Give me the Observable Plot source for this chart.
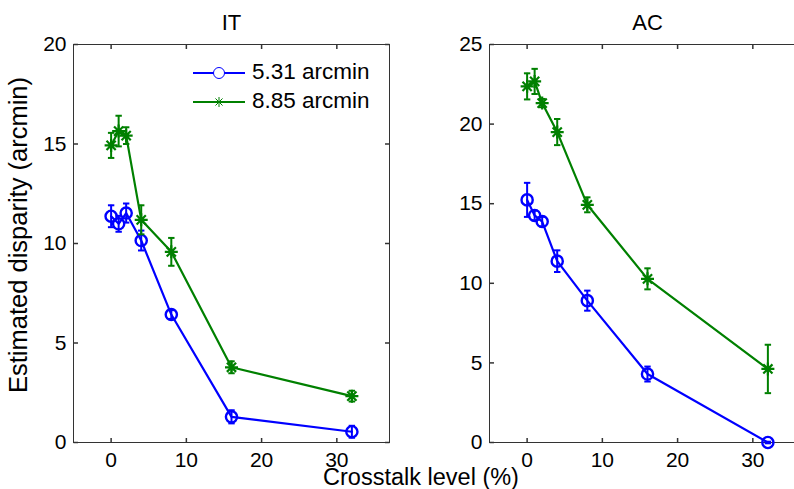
<!DOCTYPE html>
<html>
<head>
<meta charset="utf-8">
<script src="https://cdn.jsdelivr.net/npm/d3@7"></script>
<script src="https://cdn.jsdelivr.net/npm/@observablehq/plot@0.6"></script>
<style>
  html, body { margin: 0; padding: 0; overflow: hidden; background: white; }
  #wrap { position: relative; width: 794px; height: 489px; overflow: hidden; background: white;
          font-family: "Liberation Sans", Arial, Helvetica, sans-serif; color: black; }
  .panel { position: absolute; top: 0; }
  .panel svg { max-width: none !important; }
  #xlabel { position: absolute; left: 421px; top: 466px; transform: translateX(-50%);
            font-size: 23.5px; line-height: 1; white-space: nowrap; }
  #ylabel { position: absolute; left: 19px; top: 235px; transform: translate(-50%, -50%) rotate(-90deg);
            font-size: 25.5px; line-height: 1; white-space: nowrap; }
  #legend { position: absolute; left: 193px; top: 58px; font-size: 22.5px; line-height: 1; }
  .lrow { display: flex; align-items: center; height: 29px; }
  .lrow svg { margin-right: 7px; }
</style>
</head>
<body>
<div id="wrap">
  <div id="left" class="panel" style="left:0px"></div>
  <div id="right" class="panel" style="left:400px"></div>
  <div id="legend"></div>
  <div id="ylabel">Estimated disparity (arcmin)</div>
  <div id="xlabel">Crosstalk level (%)</div>
</div>
<script>
// ---- data ----
const crosstalk = [0, 1, 2, 4, 8, 16, 32];
const seriesNames = ["5.31 arcmin", "8.85 arcmin"];
const seriesColors = ["#0000ff", "#008000"];

const itSmall    = [11.37, 10.99, 11.53, 10.15, 6.43, 1.29, 0.54];
const itSmallErr = [0.55, 0.40, 0.48, 0.50, 0.22, 0.33, 0.30];
const itLarge    = [14.93, 15.65, 15.42, 11.19, 9.58, 3.78, 2.33];
const itLargeErr = [0.63, 0.77, 0.42, 0.73, 0.70, 0.30, 0.27];

const acSmall    = [15.24, 14.26, 13.88, 11.39, 8.91, 4.30, 0.00];
const acSmallErr = [1.07, 0.30, 0.30, 0.68, 0.63, 0.47, 0.05];
const acLarge    = [22.37, 22.68, 21.32, 19.50, 14.93, 10.28, 4.62];
const acLargeErr = [0.82, 0.79, 0.26, 0.82, 0.47, 0.66, 1.52];

const xTicks = [0, 10, 20, 30];
const itYTicks = [0, 5, 10, 15, 20];
const acYTicks = [0, 5, 10, 15, 20, 25];

// ---- custom symbols ----
const rad = (size) => Math.sqrt(size / Math.PI);
const asterisk = { draw(ctx, size) { const r = rad(size), d = r * Math.SQRT1_2;
  ctx.moveTo(-r, 0); ctx.lineTo(r, 0); ctx.moveTo(0, -r); ctx.lineTo(0, r);
  ctx.moveTo(-d, -d); ctx.lineTo(d, d); ctx.moveTo(-d, d); ctx.lineTo(d, -d); } };
const capSym = { draw(ctx, size) { const r = rad(size); ctx.moveTo(-r, 0); ctx.lineTo(r, 0); } };
const tickUp = { draw(ctx, size) { const r = rad(size); ctx.moveTo(0, 0); ctx.lineTo(0, -r); } };
const tickDown = { draw(ctx, size) { const r = rad(size); ctx.moveTo(0, 0); ctx.lineTo(0, r); } };
const tickRight = { draw(ctx, size) { const r = rad(size); ctx.moveTo(0, 0); ctx.lineTo(r, 0); } };
const tickLeft = { draw(ctx, size) { const r = rad(size); ctx.moveTo(0, 0); ctx.lineTo(-r, 0); } };

function rows(vals, errs) {
  return crosstalk.map((x, i) => ({ x, y: vals[i], lo: vals[i] - errs[i], hi: vals[i] + errs[i] }));
}

function seriesMarks(data, color, symbol, r, sw) {
  return [
    Plot.line(data, { x: "x", y: "y", stroke: color, strokeWidth: 2.2 }),
    Plot.ruleX(data, { x: "x", y1: "lo", y2: "hi", stroke: color, strokeWidth: 2 }),
    Plot.dot(data, { x: "x", y: "lo", symbol: capSym, r: 3.2, stroke: color, strokeWidth: 2 }),
    Plot.dot(data, { x: "x", y: "hi", symbol: capSym, r: 3.2, stroke: color, strokeWidth: 2 }),
    Plot.dot(data, { x: "x", y: "y", symbol, r, stroke: color, strokeWidth: sw, fill: "none" })
  ];
}

function panel(title, small, smallErr, large, largeErr, yMax, yTicks, opts) {
  const axisColor = "#333";
  return Plot.plot({
    width: opts.width, height: 489,
    marginTop: 44, marginBottom: 47, marginLeft: opts.marginLeft, marginRight: opts.marginRight,
    style: { fontFamily: '"Liberation Sans", Arial, Helvetica, sans-serif', fontSize: "21px", color: "black", background: "white", overflow: "visible" },
    x: { domain: [-5, 37], label: null },
    y: { domain: [0, yMax], label: null },
    marks: [
      Plot.frame({ stroke: axisColor, strokeWidth: 1 }),
      Plot.dot(xTicks, { x: d => d, frameAnchor: "bottom", symbol: tickUp, r: 4.5, stroke: axisColor }),
      Plot.dot(xTicks, { x: d => d, frameAnchor: "top", symbol: tickDown, r: 4.5, stroke: axisColor }),
      Plot.dot(yTicks, { y: d => d, frameAnchor: "left", symbol: tickRight, r: 4.5, stroke: axisColor }),
      Plot.dot(yTicks, { y: d => d, frameAnchor: "right", symbol: tickLeft, r: 4.5, stroke: axisColor }),
      Plot.axisX({ ticks: xTicks, tickSize: 0, tickPadding: 10, fontSize: 21, tickFormat: d => String(d) }),
      Plot.axisY({ ticks: yTicks, tickSize: 0, tickPadding: 7, fontSize: 21, tickFormat: d => String(d) }),
      Plot.text([title], { text: d => d, frameAnchor: "top", dy: -30, fontSize: 22 }),
      ...seriesMarks(rows(small, smallErr), seriesColors[0], "circle", 5.6, 2.4),
      ...seriesMarks(rows(large, largeErr), seriesColors[1], asterisk, 6.5, 2.2)
    ]
  });
}

document.getElementById("left").append(
  panel("IT", itSmall, itSmallErr, itLarge, itLargeErr, 20, itYTicks, { width: 400, marginLeft: 73, marginRight: 11 })
);
document.getElementById("right").append(
  panel("AC", acSmall, acSmallErr, acLarge, acLargeErr, 25, acYTicks, { width: 420, marginLeft: 89, marginRight: 15 })
);

// ---- legend (HTML) ----
const legend = document.getElementById("legend");
seriesNames.forEach((name, i) => {
  const row = document.createElement("div");
  row.className = "lrow";
  const ns = "http://www.w3.org/2000/svg";
  const svg = document.createElementNS(ns, "svg");
  svg.setAttribute("width", 52); svg.setAttribute("height", 16);
  const line = document.createElementNS(ns, "line");
  line.setAttribute("x1", 0); line.setAttribute("x2", 52); line.setAttribute("y1", 8); line.setAttribute("y2", 8);
  line.setAttribute("stroke", seriesColors[i]); line.setAttribute("stroke-width", 2);
  svg.append(line);
  const m = document.createElementNS(ns, "path");
  const p = d3.path();
  if (i === 0) { d3.symbolCircle.draw(p, 5.5 * 5.5 * Math.PI); } else { asterisk.draw(p, 5 * 5 * Math.PI); }
  m.setAttribute("d", p.toString());
  m.setAttribute("transform", "translate(26,8)");
  m.setAttribute("fill", i === 0 ? "white" : "none");
  m.setAttribute("stroke", seriesColors[i]); m.setAttribute("stroke-width", 1);
  svg.append(m);
  const span = document.createElement("span");
  span.textContent = name;
  row.append(svg, span);
  legend.append(row);
});
</script>
</body>
</html>
